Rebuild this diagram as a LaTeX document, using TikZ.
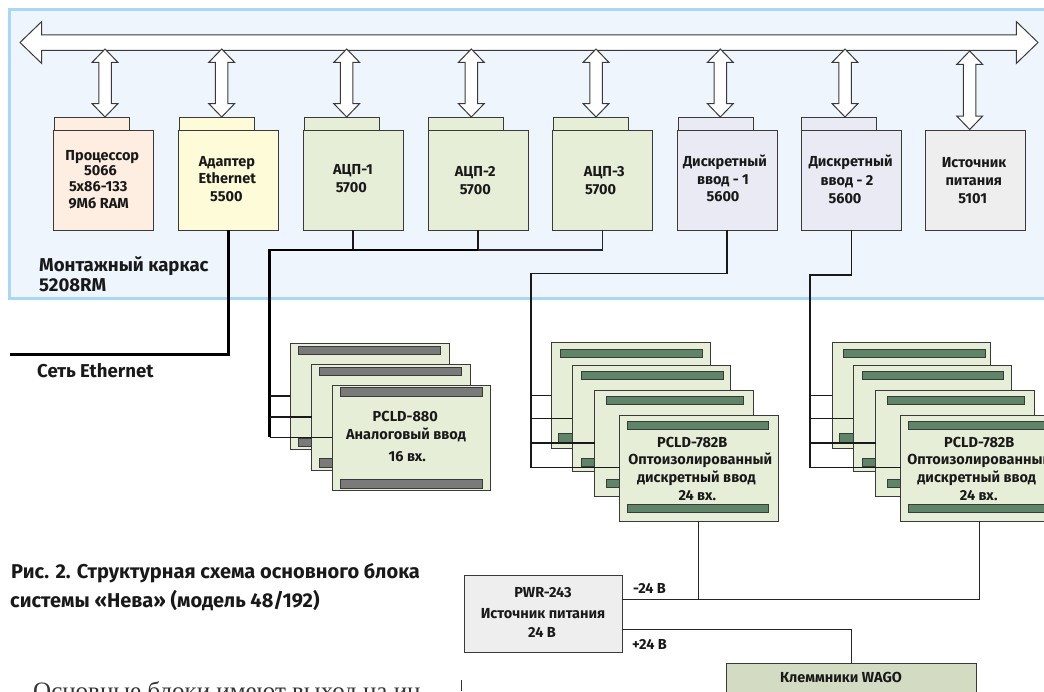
\documentclass[tikz,border=0pt]{standalone}
\usepackage{fontspec}
\setmainfont{Fira Sans}
\newfontfamily\bodyserif{Liberation Serif}
\usetikzlibrary{shapes.arrows,calc}
\definecolor{frameblue}{HTML}{A9D8F6}
\definecolor{framefill}{HTML}{EEF5FC}
\definecolor{peach}{HTML}{FEEEE2}
\definecolor{cream}{HTML}{FEFCD8}
\definecolor{adcgreen}{HTML}{E7EED8}
\definecolor{lilac}{HTML}{E9EAF4}
\definecolor{lightgray}{HTML}{EEEEEE}
\definecolor{wago}{HTML}{D3DCC3}
\definecolor{graybar}{HTML}{7A7A7A}
\definecolor{greenbar}{HTML}{5F8568}
\definecolor{edge}{HTML}{3A3A3A}
\newcounter{lblcnt}
\newcommand{\rct}[6][]{%
  \pgfmathsetmacro\myw{#5-#3}\pgfmathsetmacro\myh{#6-#4}%
  \pgfmathsetmacro\mx{(#3+#5)/2}\pgfmathsetmacro\my{(#4+#6)/2}%
  \node[boxy,minimum width=\myw pt,minimum height=\myh pt,#1] (#2) at (\mx,\my) {};}
\newcommand{\lbl}[4][lab]{\stepcounter{lblcnt}\node[#1] (t\thelblcnt) at (#2,#3) {#4};}
\newcommand{\darrow}[4]{%
  \pgfmathsetmacro\myl{#4-#3}\pgfmathsetmacro\my{(#3+#4)/2}%
  \node[smallarrow,minimum height=\myl pt] (#1) at (#2,\my) {};}
\tikzset{
  boxy/.style={draw=edge,line width=1pt,inner sep=0pt,outer sep=0pt,rectangle},
  lab/.style={inner sep=0pt,anchor=mid,yshift=-2pt,font=\fontsize{14.5}{16}\selectfont\bfseries,text=black!90},
  big/.style={inner sep=0pt,anchor=mid west,yshift=-3.5pt,font=\fontsize{18.6}{20}\selectfont\bfseries,text=black!90},
  capt/.style={inner sep=0pt,anchor=mid west,yshift=-3.5pt,font=\fontsize{20}{22}\selectfont\bfseries,text=black!90},
  smallarrow/.style={double arrow,draw=edge,fill=white,line width=1pt,rotate=90,inner xsep=0pt,inner ysep=5.75pt,outer sep=0pt,
    double arrow head extend=6.75pt,double arrow tip angle=88,double arrow head indent=0pt},
  thin/.style={draw=black!85,line width=1pt},
  mid/.style={draw=black!90,line width=1.5pt},
  thick/.style={draw=black,line width=3pt},
}
\begin{document}
\begin{tikzpicture}[x=1pt,y=-1pt]
\useasboundingbox (0,0) rectangle (1044,691);
\clip (0,0) rectangle (1044,691);
\node[draw=frameblue,fill=framefill,line width=3pt,inner sep=0pt,outer sep=0pt,minimum width=1070pt,minimum height=289pt] (frame) at (544.5,154) {};
% bus
\node[double arrow,draw=edge,fill=white,line width=1pt,inner xsep=0pt,inner ysep=7.25pt,outer sep=0pt,minimum height=1018pt,
  double arrow head extend=13.25pt,double arrow tip angle=88,double arrow head indent=0pt] (bus) at (529,42.5) {};
% modules
\rct[fill=peach]{m1tab}{54}{117}{129}{130}\rct[fill=peach]{m1}{53}{130}{153}{230}
\rct[fill=cream]{m2tab}{179}{117}{254}{130}\rct[fill=cream]{m2}{178}{130}{278}{230}
\rct[fill=adcgreen]{m3tab}{304}{117}{379}{130}\rct[fill=adcgreen]{m3}{303}{130}{403}{230}
\rct[fill=adcgreen]{m4tab}{428.5}{117}{503.5}{130}\rct[fill=adcgreen]{m4}{428}{130}{528}{230}
\rct[fill=adcgreen]{m5tab}{553}{117}{628}{130}\rct[fill=adcgreen]{m5}{552.5}{130}{652.5}{230}
\rct[fill=lilac]{m6tab}{678}{117}{753}{130}\rct[fill=lilac]{m6}{677}{130}{777}{230}
\rct[fill=lilac]{m7tab}{801}{117}{876}{130}\rct[fill=lilac]{m7}{801.5}{130}{901.5}{230}
\rct[fill=lightgray]{m8}{925.7}{130}{1025.7}{230}
% bus arrows
\darrow{a1}{105}{49}{117}
\darrow{a2}{221.7}{49}{117}
\darrow{a3}{346.7}{49}{117}
\darrow{a4}{471.3}{49}{117}
\darrow{a5}{596}{49}{117}
\darrow{a6}{720.3}{49}{117}
\darrow{a7}{845}{49}{117}
\darrow{a8}{969.7}{51}{129.5}
% PCLD-880 stack
\rct[fill=adcgreen]{p1}{290.3}{343.3}{449.3}{449}
\rct[fill=graybar]{p1a}{298.7}{346.3}{440.7}{354.6}
\rct[fill=graybar]{p1b}{298.7}{438}{440.7}{446}
\rct[fill=adcgreen]{p2}{311.5}{364.3}{470.3}{470}
\rct[fill=graybar]{p2a}{319.3}{367.3}{461.7}{375.6}
\rct[fill=graybar]{p2b}{319.3}{458.5}{461.7}{467}
\rct[fill=adcgreen]{p3}{332}{385}{490.7}{490.7}
\rct[fill=graybar]{p3a}{340.3}{387.7}{482}{396.3}
\rct[fill=graybar]{p3b}{340.3}{479.5}{482}{488}
% left 782B stack
\rct[fill=adcgreen]{q1}{551.3}{342.7}{710}{448.3}
\rct[fill=greenbar]{q1a}{560.7}{349}{702}{357.5}
\rct[fill=greenbar]{q1b}{558.3}{433.5}{700}{442}
\rct[fill=adcgreen]{q2}{572}{365.3}{730}{471}
\rct[fill=greenbar]{q2a}{581}{371}{723}{379.5}
\rct[fill=greenbar]{q2b}{581}{458.3}{723}{466.8}
\rct[fill=adcgreen]{q3}{594.7}{390}{753.3}{496}
\rct[fill=greenbar]{q3a}{606}{396}{743.3}{404.5}
\rct[fill=greenbar]{q3b}{606}{479.3}{743.3}{487.8}
\rct[fill=adcgreen]{q4}{619.7}{415.3}{778}{521}
\rct[fill=greenbar]{q4a}{627}{421}{768.5}{429.3}
\rct[fill=greenbar]{q4b}{627}{504.3}{768.5}{512.8}
% right 782B stack
\rct[fill=adcgreen]{r1}{832.3}{342.7}{990.3}{448.3}
\rct[fill=greenbar]{r1a}{843.7}{349}{985}{357.5}
\rct[fill=greenbar]{r1b}{839.7}{433.5}{981}{442}
\rct[fill=adcgreen]{r2}{853}{365.3}{1011}{471}
\rct[fill=greenbar]{r2a}{862.3}{371}{1003.7}{379.5}
\rct[fill=greenbar]{r2b}{862.3}{458.3}{1003.7}{466.8}
\rct[fill=adcgreen]{r3}{875.7}{390}{1034}{496}
\rct[fill=greenbar]{r3a}{887.3}{396}{1024.7}{404.5}
\rct[fill=greenbar]{r3b}{887.3}{479.3}{1024.7}{487.8}
\rct[fill=adcgreen]{r4}{900.7}{415.3}{1059}{521}
\rct[fill=greenbar]{r4a}{908}{421}{1050}{429.3}
\rct[fill=greenbar]{r4b}{908}{504.3}{1050}{512.8}
% power
\rct[fill=lightgray]{pwr}{464}{575.7}{622.3}{652.3}
\rct[fill=wago]{wg}{726.7}{663.3}{976}{720}
% connectors
\coordinate (eth) at (10,354);
\draw[thick,line join=miter] (m2.south) |- (eth);
\coordinate (ab) at (269.5,250);
\coordinate (ae) at (269.5,437.3);
\draw[mid] (m3.south) -- (m3.south |- ab);
\draw[mid] (m4.south) -- (m4.south |- ab);
\draw[thin,line width=1.2pt] (m5.south) |- (m4.south |- ab);
\draw[line width=2.2pt,draw=black] (m4.south |- ab) -- (ab) -- (ae);
\coordinate (s1) at (269.5,396);\coordinate (s2) at (269.5,417);
\draw[mid] (s1) -- (s1 -| p1.west);
\draw[mid] (s2) -- (s2 -| p2.west);
\draw[mid] (ae) -- (ae -| p3.west);
\coordinate (lb) at (531,273.5);\coordinate (le) at (531,467.7);
\draw[mid] (m6.south) |- (lb) -- (le);
\coordinate (l1) at (531,395.3);\coordinate (l2) at (531,418.3);\coordinate (l3) at (531,443);
\draw[mid] (l1) -- (l1 -| q1.west);
\draw[mid] (l2) -- (l2 -| q2.west);
\draw[mid] (l3) -- (l3 -| q3.west);
\draw[mid] (le) -- (le -| q4.west);
\coordinate (rb) at (810,275);\coordinate (re) at (810,467.7);
\draw[mid] (m7.south) |- (rb) -- (re);
\coordinate (k1) at (810,395.3);\coordinate (k2) at (810,418.3);\coordinate (k3) at (810,443);
\draw[mid] (k1) -- (k1 -| r1.west);
\draw[mid] (k2) -- (k2 -| r2.west);
\draw[mid] (k3) -- (k3 -| r3.west);
\draw[mid] (re) -- (re -| r4.west);
\coordinate (m24) at (622.3,599);\coordinate (p24) at (622.3,629.3);
\coordinate (qs) at (698.7,521);\coordinate (rs) at (979.7,521);
\coordinate (ws) at (851.3,663.3);
\draw[thin] (m24) -| (rs);
\draw[thin] (qs) -- (qs |- m24);
\draw[thin] (p24) -| (ws);
% texts
\lbl{102.3}{156}{Процессор}\lbl{100.5}{171}{5066}\lbl{98.3}{187}{5x86-133}\lbl{98.7}{203.5}{9Мб RAM}
\lbl{227}{162}{Адаптер}\lbl{227.3}{179}{Ethernet}\lbl{226.3}{197}{5500}
\lbl{353}{170}{АЦП-1}\lbl{351.3}{188}{5700}
\lbl{475.3}{172}{АЦП-2}\lbl{475.3}{190}{5700}
\lbl{604.3}{172}{АЦП-3}\lbl{600.7}{190}{5700}
\lbl{725}{162}{Дискретный}\lbl{723}{179.5}{ввод - 1}\lbl{723}{197}{5600}
\lbl{850.7}{161.5}{Дискретный}\lbl{847}{181}{ввод - 2}\lbl{845}{199}{5600}
\lbl{974}{163}{Источник}\lbl{973.7}{181}{питания}\lbl{972.7}{199}{5101}
\lbl{405.3}{416.7}{PCLD-880}\lbl{406}{435}{Аналоговый ввод}\lbl{407.3}{456.7}{16 вх.}
\lbl{692.3}{442.7}{PCLD-782B}\lbl{700.3}{460}{Оптоизолированный}\lbl{696.3}{478}{дискретный ввод}\lbl{697.3}{496}{24 вх.}
\lbl{979.3}{442.7}{PCLD-782B}\lbl{979.3}{460}{Оптоизолированный}\lbl{976.7}{478}{дискретный ввод}\lbl{978.7}{496}{24 вх.}
\lbl{543}{592.7}{PWR-243}\lbl{543}{614.3}{Источник питания}\lbl{542}{632.7}{24 В}
\lbl{649.5}{588.5}{-24 В}\lbl{649.5}{645}{+24 В}
\lbl{841}{677.7}{Клеммники WAGO}
\lbl[big]{39}{265}{Монтажный каркас}\lbl[big]{39}{285}{5208RM}
\lbl[big]{37}{371}{Сеть Ethernet}
\lbl[capt]{11}{572.7}{Рис. 2. Структурная схема основного блока}
\lbl[capt]{10}{601.7}{системы «Нева» (модель 48/192)}
\node[inner sep=0pt,anchor=base west,font=\bodyserif\fontsize{25}{28}\selectfont,text=black!80] (body) at (33,699) {Основные блоки имеют выход на ин-};
\coordinate (rul) at (461,680);
\draw[draw=black!80,line width=0.8pt] (rul) -- (rul |- 0,691);
\end{tikzpicture}
\end{document}
